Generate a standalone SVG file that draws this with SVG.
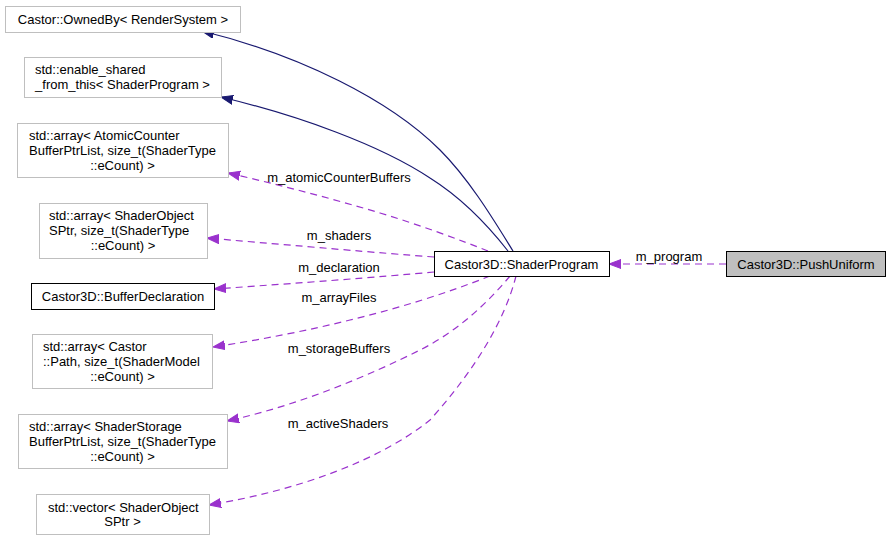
<svg xmlns="http://www.w3.org/2000/svg" width="891" height="541" viewBox="0 0 891 541">
<style>
text{font-family:"Liberation Sans",Arial,sans-serif;font-size:13px;fill:#000}
.c{text-anchor:middle}
.ext{fill:#fff;stroke:#bfbfbf;stroke-width:1}
.int{fill:#fff;stroke:#000;stroke-width:1}
.cur{fill:#bfbfbf;stroke:#000;stroke-width:1}
.inh{fill:none;stroke:#191970;stroke-width:1.2}
.use{fill:none;stroke:#9a32cd;stroke-width:1.2;stroke-dasharray:7,5}
</style>
<defs>
<marker id="ab" markerUnits="userSpaceOnUse" markerWidth="15" markerHeight="12" refX="12" refY="5" orient="auto"><path d="M0,0.5 L12,5 L0,9.5 Z" fill="#191970" stroke="#191970"/></marker>
<marker id="ap" markerUnits="userSpaceOnUse" markerWidth="15" markerHeight="12" refX="12" refY="5" orient="auto"><path d="M0,0.5 L12,5 L0,9.5 Z" fill="#9a32cd" stroke="#9a32cd"/></marker>
</defs>
<rect width="891" height="541" fill="#fff"/>
<g id="edges">
<path class="inh" marker-end="url(#ab)" d="M513,251 C495,222 470,180 440,150 C390,100 300,55 202,31"/>
<path class="inh" marker-end="url(#ab)" d="M508,251 C490,228 465,200 430,178 C380,145 300,116 221,97"/>
<path class="use" marker-end="url(#ap)" d="M488,251 C460,240 420,225 380,213 C330,198 280,185 228,173"/>
<path class="use" marker-end="url(#ap)" d="M434,257 C380,253 300,246 207,238"/>
<path class="use" marker-end="url(#ap)" d="M434,272 C380,277 300,283 214,289"/>
<path class="use" marker-end="url(#ap)" d="M490,276 C450,292 400,308 350,320 C310,330 260,340 213,347"/>
<path class="use" marker-end="url(#ap)" d="M510,276 C490,300 460,330 420,350 C370,375 300,405 227,421"/>
<path class="use" marker-end="url(#ap)" d="M516,276 C505,320 475,370 430,420 C380,460 300,490 209,505"/>
<path class="use" marker-end="url(#ap)" d="M726,264 L609,264"/>
<text class="c" x="339" y="181.5">m_atomicCounterBuffers</text>
<text class="c" x="339" y="239.5">m_shaders</text>
<text class="c" x="339" y="271.5">m_declaration</text>
<text class="c" x="339" y="301.5">m_arrayFiles</text>
<text class="c" x="339" y="352.5">m_storageBuffers</text>
<text class="c" x="338" y="427.5">m_activeShaders</text>
<text class="c" x="669" y="260.5">m_program</text>
</g>
<g id="node_ownedby">
<rect class="ext" x="5.5" y="6.5" width="235" height="26"/>
<text class="c" x="123" y="24">Castor::OwnedBy&lt; RenderSystem &gt;</text>
</g>
<g id="node_enable_shared">
<rect class="ext" x="24.5" y="57.5" width="197" height="40"/>
<text x="35" y="74">std::enable_shared</text>
<text class="c" x="122.5" y="89">_from_this&lt; ShaderProgram &gt;</text>
</g>
<g id="node_atomic">
<rect class="ext" x="17.5" y="123.5" width="211" height="54"/>
<text x="29" y="139.5">std::array&lt; AtomicCounter</text>
<text x="29" y="154.5">BufferPtrList, size_t(ShaderType</text>
<text class="c" x="122.5" y="169.5">::eCount) &gt;</text>
</g>
<g id="node_shaders">
<rect class="ext" x="39.5" y="203.5" width="168" height="55"/>
<text x="49" y="220">std::array&lt; ShaderObject</text>
<text x="49" y="235">SPtr, size_t(ShaderType</text>
<text class="c" x="123" y="250">::eCount) &gt;</text>
</g>
<g id="node_bufferdecl">
<rect class="int" x="31.5" y="283.5" width="183" height="26"/>
<text class="c" x="123" y="301">Castor3D::BufferDeclaration</text>
</g>
<g id="node_arrayfiles">
<rect class="ext" x="32.5" y="334.5" width="180" height="54"/>
<text x="43" y="350.5">std::array&lt; Castor</text>
<text x="43" y="365.5">::Path, size_t(ShaderModel</text>
<text class="c" x="122.5" y="380.5">::eCount) &gt;</text>
</g>
<g id="node_storage">
<rect class="ext" x="18.5" y="414.5" width="209" height="54"/>
<text x="29" y="430.5">std::array&lt; ShaderStorage</text>
<text x="29" y="445.5">BufferPtrList, size_t(ShaderType</text>
<text class="c" x="122.5" y="460.5">::eCount) &gt;</text>
</g>
<g id="node_vector">
<rect class="ext" x="36.5" y="494.5" width="173" height="40"/>
<text x="48" y="511.5">std::vector&lt; ShaderObject</text>
<text class="c" x="122.5" y="526">SPtr &gt;</text>
</g>
<g id="node_shaderprogram">
<rect class="int" x="434.5" y="251.5" width="175" height="25"/>
<text class="c" x="521.5" y="268.5">Castor3D::ShaderProgram</text>
</g>
<g id="node_pushuniform">
<rect class="cur" x="726.5" y="251.5" width="159" height="25"/>
<text class="c" x="806" y="268.5">Castor3D::PushUniform</text>
</g>
</svg>
